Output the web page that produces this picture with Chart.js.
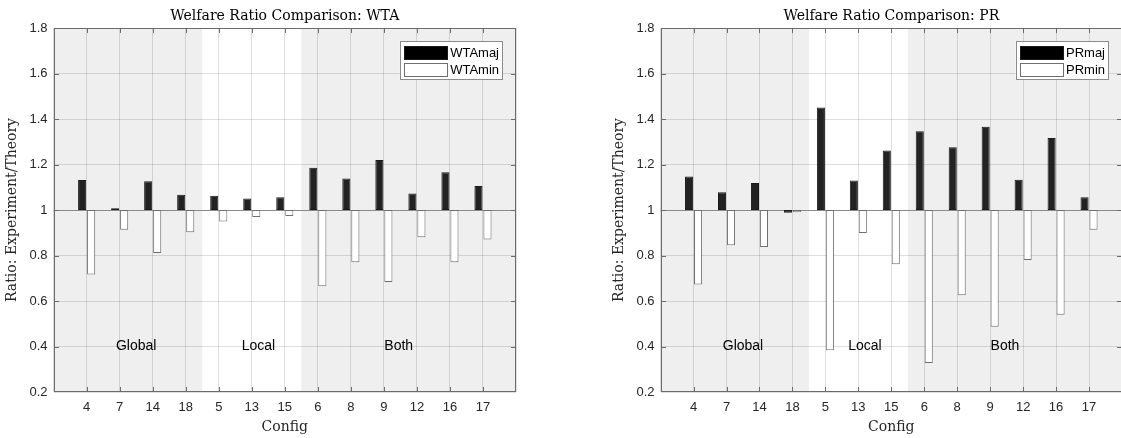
<!DOCTYPE html>
<html>
<head>
<meta charset="utf-8">
<script src="https://cdn.jsdelivr.net/npm/chart.js@4.4.1/dist/chart.umd.min.js"></script>
<style>
  html, body { margin: 0; padding: 0; background: #fff; overflow: hidden; }
  .wrap { position: absolute; top: 0; height: 438px; }
  #left { left: 0; width: 560px; }
  #right { left: 560px; width: 570px; }
</style>
</head>
<body>
<div class="wrap" id="left"><canvas id="wta"></canvas></div>
<div class="wrap" id="right"><canvas id="pr"></canvas></div>
<script>
// config order as plotted
const configs = ["4", "7", "14", "18", "5", "13", "15", "6", "8", "9", "12", "16", "17"];

const wtaMaj = [1.132, 1.008, 1.126, 1.067, 1.063, 1.051, 1.056, 1.186, 1.139, 1.220, 1.073, 1.166, 1.105];
const wtaMin = [0.717, 0.913, 0.811, 0.902, 0.950, 0.969, 0.974, 0.665, 0.770, 0.684, 0.880, 0.770, 0.870];
const prMaj = [1.147, 1.078, 1.119, 0.988, 1.451, 1.130, 1.261, 1.346, 1.276, 1.366, 1.133, 1.316, 1.056];
const prMin = [0.672, 0.845, 0.837, 0.990, 0.383, 0.899, 0.761, 0.328, 0.625, 0.487, 0.780, 0.540, 0.913];

// group bands (in x-axis units, configs sit at 1..13)
const regionNames = ["Global", "Local", "Both"];
const regionStart = [0, 4.5, 7.5];
const regionEnd = [4.5, 7.5, 14];
const regionShaded = [true, false, true];
const regionLabelX = [2.5, 6.2, 10.45];
const regionLabelY = 0.4;

const baseValue = 1;
const yMin = 0.2, yMax = 1.8, yStep = 0.2;

const serif = '"DejaVu Serif", serif';
const sans = '"Liberation Sans", Arial, sans-serif';
const axisColor = "#6b6b6b";

const matlabLook = {
  id: "matlabLook",
  beforeDraw(chart) {
    const { ctx, chartArea: a, scales: { x } } = chart;
    ctx.save();
    for (let i = 0; i < regionNames.length; i++) {
      if (!regionShaded[i]) continue;
      const x0 = x.getPixelForValue(regionStart[i]);
      const x1 = x.getPixelForValue(regionEnd[i]);
      ctx.fillStyle = "#efefef";
      ctx.fillRect(x0, a.top, x1 - x0, a.bottom - a.top);
    }
    ctx.restore();
  },
  beforeDatasetsDraw(chart) {
    const { ctx, chartArea: a, scales: { y } } = chart;
    const py = Math.round(y.getPixelForValue(baseValue)) + 0.5;
    ctx.save();
    ctx.strokeStyle = "#8a8a8a";
    ctx.lineWidth = 1.2;
    ctx.beginPath();
    ctx.moveTo(a.left, py);
    ctx.lineTo(a.right, py);
    ctx.stroke();
    ctx.restore();
  },
  afterDatasetsDraw(chart) {
    const { ctx, chartArea: a, scales: { x, y } } = chart;
    ctx.save();

    // group labels
    ctx.font = "14px " + sans;
    ctx.fillStyle = "#000";
    ctx.textAlign = "center";
    ctx.textBaseline = "middle";
    regionNames.forEach((name, i) => {
      ctx.fillText(name, x.getPixelForValue(regionLabelX[i]), y.getPixelForValue(regionLabelY));
    });

    // box and inward ticks
    ctx.strokeStyle = axisColor;
    ctx.lineWidth = 1;
    const L = Math.round(a.left) + 0.5, R = Math.round(a.right) - 0.5;
    const T = Math.round(a.top) + 0.5, B = Math.round(a.bottom) - 0.5;
    ctx.strokeRect(L, T, R - L, B - T);
    const tl = 4.5;
    ctx.beginPath();
    for (let i = 1; i <= configs.length; i++) {
      const px = Math.round(x.getPixelForValue(i)) + 0.5;
      ctx.moveTo(px, B); ctx.lineTo(px, B - tl);
      ctx.moveTo(px, T); ctx.lineTo(px, T + tl);
    }
    for (let v = yMin + yStep; v < yMax - 1e-6; v += yStep) {
      const py = Math.round(y.getPixelForValue(v)) + 0.5;
      ctx.moveTo(L, py); ctx.lineTo(L + tl, py);
      ctx.moveTo(R, py); ctx.lineTo(R - tl, py);
    }
    ctx.stroke();

    // title
    ctx.font = "14px " + serif;
    ctx.fillStyle = "#000";
    ctx.textBaseline = "alphabetic";
    ctx.fillText(chart.options.plugins.matlabLook.title, (a.left + a.right) / 2, 20);

    // legend box, top right inside the axes
    ctx.font = "13px " + sans;
    const sets = chart.data.datasets;
    const textW = Math.max(...sets.map(d => ctx.measureText(d.label).width));
    const sw = 43, sh = 13, pad = 4.3, gap = 3;
    const boxW = pad + sw + gap + textW + 3;
    const boxH = 38;
    const bx = a.right - 14 - boxW, by = a.top + 13;
    ctx.fillStyle = "#fff";
    ctx.fillRect(bx, by, boxW, boxH);
    ctx.strokeStyle = "#8c8c8c";
    ctx.strokeRect(Math.round(bx) + 0.5, Math.round(by) + 0.5, Math.round(boxW), Math.round(boxH));
    ctx.textAlign = "left";
    ctx.textBaseline = "middle";
    sets.forEach((d, i) => {
      const sy = by + 5 + i * 17.3;
      ctx.fillStyle = d.legendFill;
      ctx.fillRect(bx + pad, sy, sw, sh);
      ctx.strokeStyle = d.borderColor;
      ctx.strokeRect(Math.round(bx + pad) + 0.5, Math.round(sy) + 0.5, sw, sh);
      ctx.fillStyle = "#000";
      ctx.fillText(d.label, bx + pad + sw + gap, sy + sh / 2 + 0.5);
    });
    ctx.restore();
  }
};

function buildChart(id, title, majLabel, minLabel, majValues, minValues, padLeft, padRight) {
  const ctx = document.getElementById(id).getContext("2d");
  const toBars = vals => vals.map((v, i) => ({ x: i + 1, y: [baseValue, v] }));

  return new Chart(ctx, {
    type: "bar",
    data: {
      datasets: [
        {
          label: majLabel,
          data: toBars(majValues),
          backgroundColor: "#222222",
          borderColor: "#1a1a1a",
          legendFill: "#000000",
          borderWidth: 1,
          borderSkipped: false,
        },
        {
          label: minLabel,
          data: toBars(minValues),
          backgroundColor: "#ffffff",
          borderColor: "#6f6f6f",
          legendFill: "#ffffff",
          borderWidth: 1,
          borderSkipped: false,
        },
      ],
    },
    options: {
      responsive: true,
      maintainAspectRatio: false,
      animation: false,
      categoryPercentage: 0.545,
      barPercentage: 0.9,
      layout: { padding: { left: padLeft, right: padRight, top: 28, bottom: 2 } },
      plugins: {
        legend: { display: false },
        tooltip: { enabled: false },
        matlabLook: { title: title },
      },
      scales: {
        x: {
          type: "linear",
          min: 0,
          max: configs.length + 1,
          offset: false,
          grid: { offset: false, color: "rgba(38,38,38,0.15)", drawTicks: false },
          border: { display: false },
          ticks: {
            stepSize: 1,
            padding: 8,
            color: "#262626",
            font: { family: sans, size: 13 },
            autoSkip: false,
            maxRotation: 0,
            callback: v => configs[v - 1] || "",
          },
          title: {
            display: true,
            text: "Config",
            color: "#262626",
            font: { family: serif, size: 14 },
            padding: { top: 0, bottom: 0 },
          },
          afterFit: s => { s.height = 44; },
        },
        y: {
          min: yMin,
          max: yMax,
          grid: { color: "rgba(38,38,38,0.15)", drawTicks: false },
          border: { display: false },
          ticks: {
            stepSize: yStep,
            padding: 6,
            color: "#262626",
            font: { family: sans, size: 13 },
            callback: v => String(+v.toFixed(1)),
          },
          title: {
            display: true,
            text: "Ratio: Experiment/Theory",
            color: "#262626",
            font: { family: serif, size: 14 },
            padding: { top: 4, bottom: 0 },
          },
          afterFit: s => { s.width = 53.6; },
        },
      },
    },
    plugins: [matlabLook],
  });
}

buildChart("wta", "Welfare Ratio Comparison: WTA", "WTAmaj", "WTAmin", wtaMaj, wtaMin, 0, 44);
buildChart("pr", "Welfare Ratio Comparison: PR", "PRmaj", "PRmin", prMaj, prMin, 47, 7);
</script>
</body>
</html>
